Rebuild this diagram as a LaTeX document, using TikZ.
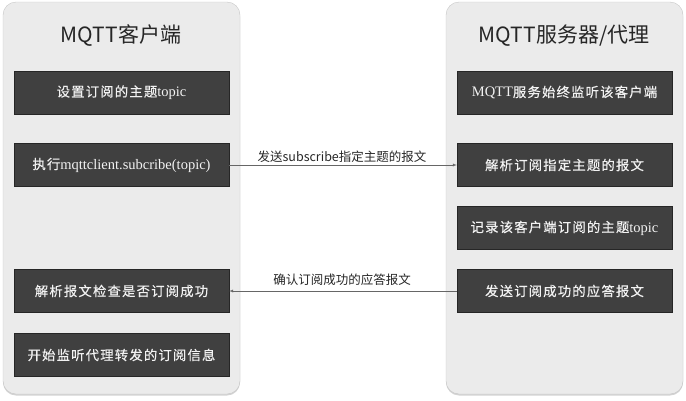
\documentclass[tikz,border=0pt]{standalone}
\usepackage{fontspec}
\usepackage{tikz}
\usetikzlibrary{shadows}
\setmainfont{Liberation Serif}
\newfontfamily\cjk{Noto Sans CJK SC}
\newfontfamily\cjkbox[Scale=0.92,LetterSpace=9,FakeBold=0.4]{Noto Sans CJK SC}
\definecolor{panelgray}{HTML}{EBEBEB}
\definecolor{boxgray}{HTML}{404040}

\begin{document}
\begin{tikzpicture}[x=1pt, y=-1pt,
  panel/.style={draw=gray!45, fill=panelgray, rounded corners=13pt,
    drop shadow={shadow xshift=0pt, shadow yshift=-1.5pt, opacity=0.35}},
  stage/.style={draw=black!85, fill=boxgray, text=white!95!black, inner sep=0pt,
    minimum width=215pt, minimum height=43pt, font=\fontsize{14.5}{16}\selectfont},
  title/.style={font=\cjk\fontsize{21}{24}\selectfont, text=black!85},
  msg/.style={draw=black!60, thin, -latex},
  msglabel/.style={font=\cjk\fontsize{12.5}{14}\selectfont, text=black!85}]
\useasboundingbox (0,0) rectangle (686,400);
% the two sides
\draw [panel] (3,2) rectangle (240,394);
\draw [panel] (446,2) rectangle (683,394);
\node [title] (clientTitle) at (121,36) {MQTT客户端};
\node [title] (brokerTitle) at (564,36) {MQTT服务器/代理};
% client steps
\node [stage] (setTopic) at (121.5,92.5) {{\cjkbox 设置订阅的主题}topic};
\node [stage] (doSub) at (121.5,165) {{\cjkbox 执行}mqttclient.subcribe(topic)};
\node [stage] (checkAck) at (121.5,291) {\cjkbox 解析报文检查是否订阅成功};
\node [stage] (listen) at (121.5,355) {\cjkbox 开始监听代理转发的订阅信息};
% broker steps
\node [stage] (watch) at (564.5,92.5) {MQTT{\cjkbox 服务始终监听该客户端}};
\node [stage] (parseSub) at (564.5,165) {\cjkbox 解析订阅指定主题的报文};
\node [stage] (record) at (564.5,228) {{\cjkbox 记录该客户端订阅的主题}topic};
\node [stage] (sendAck) at (564.5,291) {\cjkbox 发送订阅成功的应答报文};
% messages
\draw [msg] (doSub) -- (parseSub);
\node [msglabel] (subLabel) at (342,157) {发送subscribe指定主题的报文};
\draw [msg] (sendAck) -- (checkAck);
\node [msglabel] (ackLabel) at (342,280) {确认订阅成功的应答报文};
\end{tikzpicture}
\end{document}
